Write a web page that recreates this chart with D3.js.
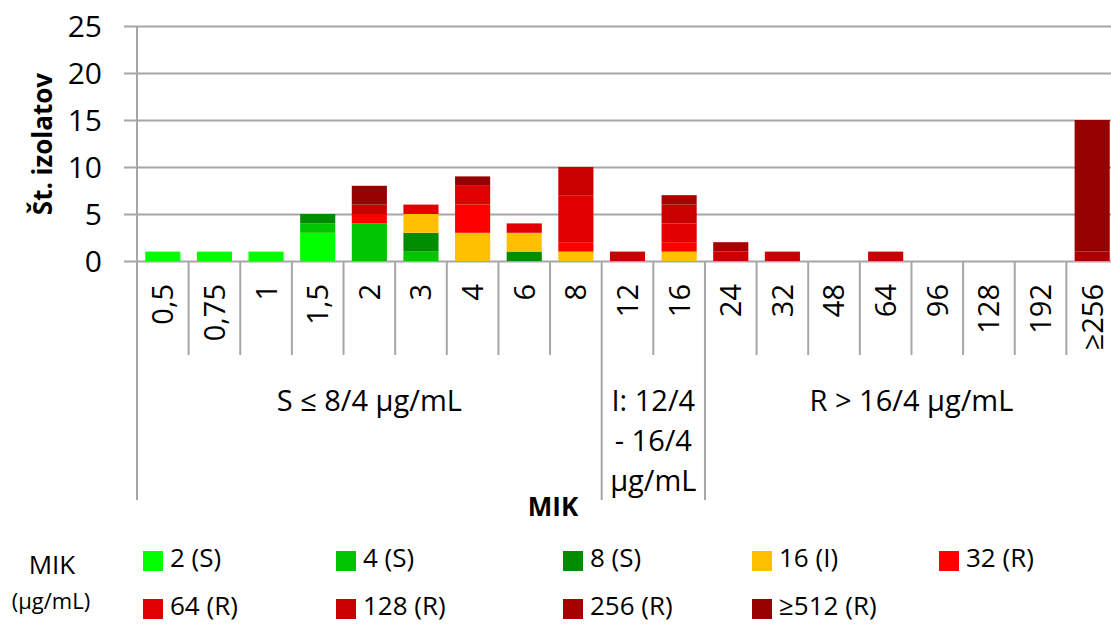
<!DOCTYPE html>
<html>
<head>
<meta charset="utf-8">
<script src="https://cdn.jsdelivr.net/npm/d3@7"></script>
<style>
  body { margin: 0; background: #fff; }
  svg text { font-family: "Open Sans", sans-serif; fill: #000; }
</style>
</head>
<body>
<div id="wrapper"></div>
<script>
// DATA
const categories = ["0,5", "0,75", "1", "1,5", "2", "3", "4", "6", "8", "12", "16", "24", "32", "48", "64", "96", "128", "192", "≥256"]
const seriesNames = ["2 (S)", "4 (S)", "8 (S)", "16 (I)", "32 (R)", "64 (R)", "128 (R)", "256 (R)", "≥512 (R)"]
const seriesColors = ["#00ff00", "#00c400", "#008c00", "#ffc000", "#ff0000", "#e00000", "#c80000", "#a80000", "#960000"]

const mic2 =   [1, 1, 1, 3, 0, 0, 0, 0, 0, 0, 0, 0, 0, 0, 0, 0, 0, 0, 0]
const mic4 =   [0, 0, 0, 1, 4, 1, 0, 0, 0, 0, 0, 0, 0, 0, 0, 0, 0, 0, 0]
const mic8 =   [0, 0, 0, 1, 0, 2, 0, 1, 0, 0, 0, 0, 0, 0, 0, 0, 0, 0, 0]
const mic16 =  [0, 0, 0, 0, 0, 2, 3, 2, 1, 0, 1, 0, 0, 0, 0, 0, 0, 0, 0]
const mic32 =  [0, 0, 0, 0, 1, 0, 3, 0, 1, 0, 1, 0, 0, 0, 0, 0, 0, 0, 0]
const mic64 =  [0, 0, 0, 0, 0, 1, 2, 1, 5, 0, 2, 0, 0, 0, 0, 0, 0, 0, 0]
const mic128 = [0, 0, 0, 0, 1, 0, 0, 0, 3, 1, 2, 1, 1, 0, 1, 0, 0, 0, 0]
const mic256 = [0, 0, 0, 0, 0, 0, 0, 0, 0, 0, 1, 1, 0, 0, 0, 0, 0, 0, 1]
const mic512 = [0, 0, 0, 0, 2, 0, 1, 0, 0, 0, 0, 0, 0, 0, 0, 0, 0, 0, 14]
const seriesValues = [mic2, mic4, mic8, mic16, mic32, mic64, mic128, mic256, mic512]

const yTicks = [0, 5, 10, 15, 20, 25]

// interpretation groups: first / last category index and label lines
const groupLabels = [["S ≤ 8/4 µg/mL"], ["I: 12/4", "- 16/4", "µg/mL"], ["R > 16/4 µg/mL"]]
const groupStart = [0, 9, 11]
const groupEnd = [8, 10, 18]

// DIMENSIONS
const width = 1111
const height = 625
const plot = { left: 137, right: 1118, top: 26, bottom: 261 }
const legendCols = [143, 336, 563, 752, 939]
const legendRows = [551, 599]

const svg = d3.select('#wrapper')
    .append('svg')
    .attr('width', width)
    .attr('height', height)

svg.append('rect')
    .attr('width', width)
    .attr('height', height)
    .attr('fill', '#fff')

// SCALES
const x = d3.scaleBand()
    .domain(categories)
    .range([plot.left, plot.right])
    .paddingInner(0.32)
    .paddingOuter(0.16)

const y = d3.scaleLinear()
    .domain([0, 25])
    .range([plot.bottom, plot.top])

const color = d3.scaleOrdinal()
    .domain(seriesNames)
    .range(seriesColors)

// table for the stack
const table = categories.map((c, i) => {
    const row = { cat: c }
    seriesNames.forEach((s, j) => row[s] = seriesValues[j][i])
    return row
})
const stacked = d3.stack().keys(seriesNames)(table)

// GRID + Y AXIS
const gridColor = '#a6a6a6'
const yAxis = svg.append('g')
    .attr('transform', `translate(${plot.left},0)`)
    .call(d3.axisLeft(y)
        .tickValues(yTicks)
        .tickSize(-(plot.right - plot.left))
        .tickPadding(35))

yAxis.select('.domain').remove()
yAxis.selectAll('.tick line')
    .attr('x1', -13)
    .attr('stroke', gridColor)
    .attr('stroke-width', 2)
yAxis.selectAll('.tick text')
    .style('font-size', '30px')
    .attr('dy', '0.36em')

svg.append('line')
    .attr('x1', plot.left).attr('x2', plot.left)
    .attr('y1', plot.top).attr('y2', plot.bottom)
    .attr('stroke', gridColor)
    .attr('stroke-width', 2)

// BARS
svg.append('g')
    .selectAll('g')
    .data(stacked)
    .join('g')
    .attr('fill', d => color(d.key))
    .selectAll('rect')
    .data(d => d.filter(p => p[1] > p[0]))
    .join('rect')
    .attr('x', d => x(d.data.cat))
    .attr('width', x.bandwidth())
    .attr('y', d => y(d[1]))
    .attr('height', d => y(d[0]) - y(d[1]))

// X AXIS: category cells
const step = x.step()
const longBounds = [0].concat(groupEnd.map(e => e + 1))
d3.range(categories.length + 1).forEach(i => {
    const bx = plot.left + i * step
    svg.append('line')
        .attr('x1', bx).attr('x2', bx)
        .attr('y1', plot.bottom)
        .attr('y2', longBounds.includes(i) ? 500 : 355)
        .attr('stroke', gridColor)
        .attr('stroke-width', 2)
})

svg.append('g')
    .selectAll('text')
    .data(categories)
    .join('text')
    .attr('transform', d => `translate(${x(d) + x.bandwidth() / 2},284) rotate(-90)`)
    .attr('text-anchor', 'end')
    .attr('dy', '0.36em')
    .style('font-size', '29px')
    .text(d => d)

// group labels
groupLabels.forEach((lines, g) => {
    const cx = plot.left + (groupStart[g] + groupEnd[g] + 1) / 2 * step
    lines.forEach((t, k) => {
        svg.append('text')
            .attr('x', cx)
            .attr('y', 411 + k * 40)
            .attr('text-anchor', 'middle')
            .style('font-size', '29px')
            .text(t)
    })
})

// axis titles
svg.append('text')
    .attr('x', 553)
    .attr('y', 516)
    .attr('text-anchor', 'middle')
    .style('font-size', '26px')
    .style('font-weight', 'bold')
    .text('MIK')

svg.append('text')
    .attr('transform', 'translate(52,144) rotate(-90)')
    .attr('text-anchor', 'middle')
    .style('font-size', '26px')
    .style('font-weight', 'bold')
    .text('Št. izolatov')

// LEGEND
svg.append('text')
    .attr('x', 52).attr('y', 574)
    .attr('text-anchor', 'middle')
    .style('font-size', '26px')
    .text('MIK')
svg.append('text')
    .attr('x', 51).attr('y', 609)
    .attr('text-anchor', 'middle')
    .style('font-size', '22px')
    .text('(µg/mL)')

const legend = svg.append('g')
    .selectAll('g')
    .data(seriesNames)
    .join('g')
    .attr('transform', (d, i) => `translate(${legendCols[i % 5]},${legendRows[Math.floor(i / 5)]})`)

legend.append('rect')
    .attr('width', 20)
    .attr('height', 20)
    .attr('fill', d => color(d))

legend.append('text')
    .attr('x', 27)
    .attr('y', 16)
    .style('font-size', '26px')
    .text(d => d)
</script>
</body>
</html>
